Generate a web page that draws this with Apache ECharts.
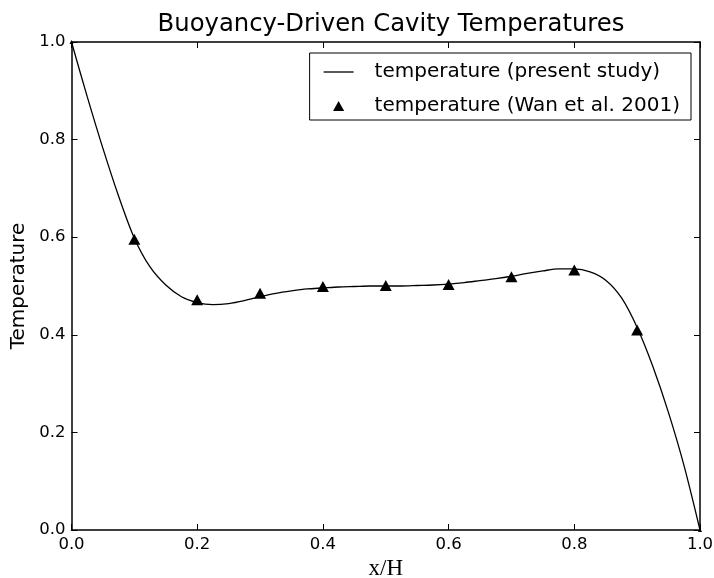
<!DOCTYPE html>
<html>
<head>
<meta charset="utf-8">
<title>Buoyancy-Driven Cavity Temperatures</title>
<script src="https://cdn.jsdelivr.net/npm/echarts@6/dist/echarts.min.js"></script>
<style>
  html, body { margin: 0; padding: 0; background: #fff; }
  #chart { width: 714px; height: 578px; }
</style>
</head>
<body>
<div id="chart"></div>
<script>
// present study, every 0.025
const studyX = [0, 0.025, 0.05, 0.075, 0.1, 0.125, 0.15, 0.175, 0.2, 0.225, 0.25, 0.275, 0.3, 0.325,
  0.35, 0.375, 0.4, 0.425, 0.45, 0.475, 0.5, 0.525, 0.55, 0.575, 0.6, 0.625, 0.65, 0.675, 0.7,
  0.725, 0.75, 0.775, 0.8, 0.825, 0.85, 0.875, 0.9, 0.925, 0.95, 0.975, 1.0];
const studyT = [1.0, 0.888, 0.782, 0.684, 0.598, 0.539, 0.502, 0.478, 0.466, 0.462, 0.464, 0.47, 0.478, 0.485,
  0.49, 0.494, 0.496, 0.498, 0.499, 0.5, 0.5, 0.5, 0.501, 0.502, 0.504, 0.507, 0.511, 0.515, 0.52,
  0.526, 0.531, 0.535, 0.535, 0.529, 0.512, 0.476, 0.415, 0.335, 0.24, 0.13, 0.0];

// Wan et al. 2001
const wanX = [0, 0.1, 0.2, 0.3, 0.4, 0.5, 0.6, 0.7, 0.8, 0.9, 1.0];
const wanT = [1.0, 0.596, 0.472, 0.485, 0.499, 0.501, 0.503, 0.519, 0.533, 0.41, 0.0];

const ticks = [0, 0.2, 0.4, 0.6, 0.8, 1.0];
const names = ["temperature (present study)", "temperature (Wan et al. 2001)"];

const font = "DejaVu Sans";
const chart = echarts.init(document.getElementById("chart"));

const valAxis = (extra) => Object.assign({
  type: "value",
  min: ticks[0],
  max: ticks[ticks.length - 1],
  interval: 0.2,
  splitLine: { show: false },
  axisLine: { show: true, onZero: false, lineStyle: { color: "#000", width: 1.5 } },
  axisTick: { show: true, inside: true, length: 6, lineStyle: { color: "#000", width: 1 } },
  axisLabel: {
    show: true, color: "#000", fontFamily: font, fontSize: 16.5, margin: 6,
    showMinLabel: true, showMaxLabel: true,
    formatter: (v) => v.toFixed(1)
  }
}, extra);

chart.setOption({
  animation: false,
  backgroundColor: "#fff",
  title: {
    text: "Buoyancy-Driven Cavity Temperatures",
    left: 386, top: 8, textAlign: "center",
    textStyle: { fontFamily: font, fontSize: 24.3, fontWeight: "normal", color: "#000" }
  },
  grid: { left: 71.5, right: 14, top: 42, bottom: 48, outerBoundsMode: "none", containLabel: false },
  legend: {
    orient: "vertical",
    right: 23, top: 53,
    data: [
      { name: names[0], icon: "path://M0,0H30V1.3H0Z" },
      { name: names[1], icon: "path://M5,0L10,9H0Z" }
    ],
    itemWidth: 30, itemHeight: 10, itemGap: 14, symbolKeepAspect: true,
    padding: [9, 11, 4, 14],
    backgroundColor: "#fff",
    borderColor: "#000", borderWidth: 1, borderRadius: 0,
    textStyle: { fontFamily: font, fontSize: 20, color: "#000", lineHeight: 20, padding: [0, 0, 0, 16] }
  },
  xAxis: [
    valAxis({
      position: "bottom",
      name: "x/H", nameLocation: "middle", nameGap: 26,
      nameTextStyle: { fontFamily: "Liberation Serif", fontSize: 23, color: "#000" }
    }),
    valAxis({ position: "top", axisLabel: { show: false } })
  ],
  yAxis: [
    valAxis({
      position: "left",
      name: "Temperature", nameLocation: "middle", nameGap: 42,
      nameTextStyle: { fontFamily: font, fontSize: 20, color: "#000" }
    }),
    valAxis({ position: "right", axisLabel: { show: false } })
  ],
  series: [
    {
      name: names[0],
      type: "line",
      data: studyX.map((x, i) => [x, studyT[i]]),
      smooth: 0.3,
      showSymbol: false,
      symbol: "none",
      lineStyle: { color: "#000", width: 1.3 },
      itemStyle: { color: "#000" },
      z: 3
    },
    {
      name: names[1],
      type: "scatter",
      data: wanX.map((x, i) => [x, wanT[i]]),
      symbol: "triangle",
      // points on the frame are clipped by the axes in the original
      symbolSize: (v) => (v[0] === 0 || v[0] === 1 ? 4 : [12, 11]),
      itemStyle: { color: "#000", opacity: 1 },
      z: 4
    }
  ]
});
</script>
</body>
</html>
